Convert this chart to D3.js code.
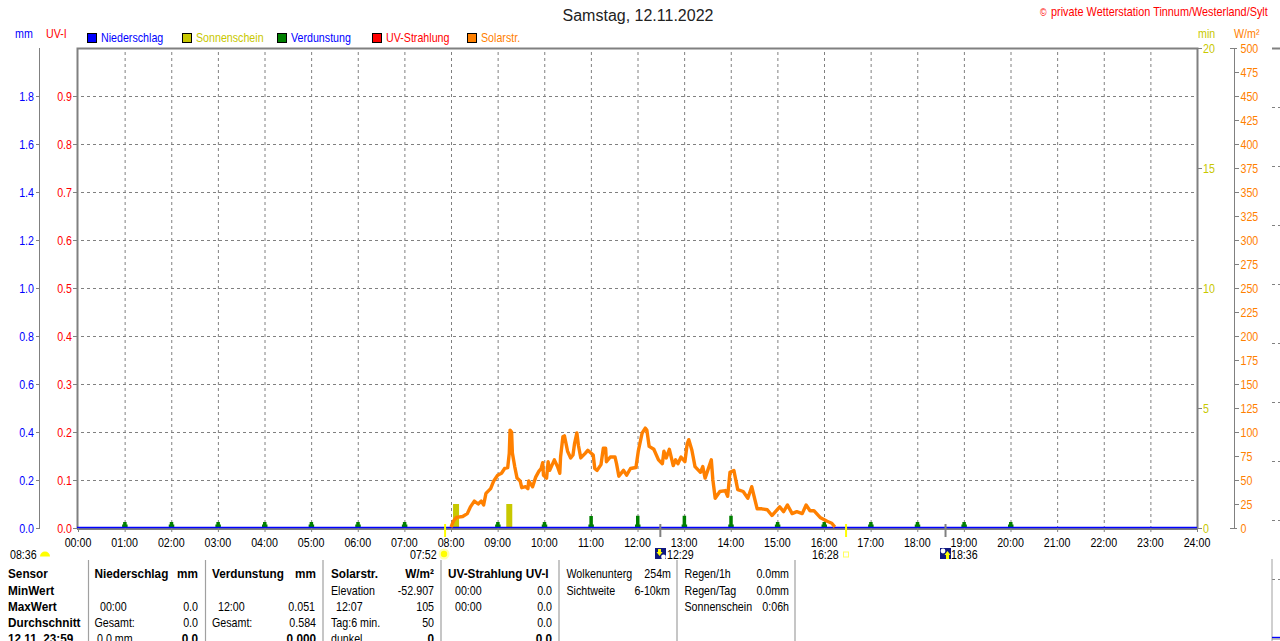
<!DOCTYPE html>
<html><head><meta charset="utf-8">
<script src="https://cdn.jsdelivr.net/npm/d3@7/dist/d3.min.js"></script>
<style>html,body{margin:0;padding:0;background:#fff;overflow:hidden}svg{display:block}text{font-family:"Liberation Sans",Arial,sans-serif}</style>
</head><body><svg id="c" width="1280" height="641"></svg>
<script>
const title = "Samstag, 12.11.2022";
const credit = "private Wetterstation Tinnum/Westerland/Sylt";
const legendNames = ["Niederschlag","Sonnenschein","Verdunstung","UV-Strahlung","Solarstr."];
const legendColors = ["#0000ff","#c8c800","#008000","#ff0000","#ff8000"];
const legendText = ["#0000ff","#c8c800","#0000ff","#ff0000","#ff8000"];
const hours = d3.range(0,25);
const mmTicks = [0,0.2,0.4,0.6,0.8,1.0,1.2,1.4,1.6,1.8];
const uvTicks = [0,0.1,0.2,0.3,0.4,0.5,0.6,0.7,0.8,0.9];
const minTicks = [0,5,10,15,20];
const solarTicks = d3.range(0,501,25);
const solarTimes = [480,483,487,495,501,505,510,515,519,522,525,531,535,540,545,549,553,555,556,558,559,562,565,569,571,576,579,580,585,589,593,596,598,599,603,605,607,613,617,620,621,624,626,630,634,637,639,642,644,647,653,656,663,665,668,673,676,679,680,685,691,693,696,702,706,711,718,721,726,730,732,735,741,747,752,754,757,761,766,769,772,776,781,784,786,790,794,801,804,807,815,817,820,826,833,836,839,844,849,856,862,867,874,880,887,893,903,908,913,919,925,932,937,942,947,955,964,970,974];
const solarWatts = [1,7,11,12,15,22,28,25,28,24,36,41,49,55,57,62,63,78,102,100,78,64,52,49,42,43,41,49,43,53,59,62,68,55,52,69,60,71,64,57,74,95,96,80,73,76,88,99,86,73,78,81,76,62,60,66,83,83,69,74,74,67,54,60,55,62,63,80,99,104,102,85,82,71,67,80,73,82,65,71,67,74,69,88,92,81,64,58,64,52,71,50,31,38,39,33,58,60,40,38,31,43,20,20,19,13,22,17,24,15,17,15,24,18,18,11,7,5,1];
const evapHours = [1,2,3,4,5,6,7,9,10,11,12,13,14,15,16,17,18,19,20];
const evapValues = [0.025,0.025,0.025,0.025,0.025,0.025,0.025,0.025,0.025,0.05,0.051,0.051,0.051,0.025,0.025,0.025,0.025,0.025,0.025];
const sunTimes = [486.5,555];
const sunValues = [1,1];
const tableCells = [
 [8,573,"Sensor","s",1],[8,590,"MinWert","s",1],[8,606,"MaxWert","s",1],[8,622,"Durchschnitt","s",1],[8,638,"12.11.  23:59","s",1],
 [94.5,573,"Niederschlag","s",1],[198,573,"mm","e",1],[100,606,"00:00","s",0],[198,606,"0.0","e",0],[94.5,622,"Gesamt:","s",0],[198,622,"0.0","e",0],[97,638,"0.0 mm","s",0],[198,638,"0.0","e",1],
 [212,573,"Verdunstung","s",1],[316,573,"mm","e",1],[218,606,"12:00","s",0],[315,606,"0.051","e",0],[212,622,"Gesamt:","s",0],[316,622,"0.584","e",0],[316,638,"0.000","e",1],
 [331,573,"Solarstr.","s",1],[434,573,"W/m²","e",1],[331,590,"Elevation","s",0],[434,590,"-52.907","e",0],[336,606,"12:07","s",0],[434,606,"105","e",0],[331,622,"Tag:6 min.","s",0],[434,622,"50","e",0],[331,638,"dunkel","s",0],[434,638,"0","e",1],
 [448,573,"UV-Strahlung UV-I","s",1],[455,590,"00:00","s",0],[552,590,"0.0","e",0],[455,606,"00:00","s",0],[552,606,"0.0","e",0],[552,622,"0.0","e",0],[552,638,"0.0","e",1],
 [566.5,573,"Wolkenunterg","s",0],[671,573,"254m","e",0],[566.5,590,"Sichtweite","s",0],[670,590,"6-10km","e",0],
 [684.5,573,"Regen/1h","s",0],[789,573,"0.0mm","e",0],[684.5,590,"Regen/Tag","s",0],[789,590,"0.0mm","e",0],[684.5,606,"Sonnenschein","s",0],[789,606,"0:06h","e",0]
];
const tableSeparators = [88.5,205.5,323,441,559,677,795];
const edgeDashes = [107,166,225,284,343,402,461,520,579];

const GREY="#808080";
const svg=d3.select("#c");
const x=d3.scaleLinear().domain([0,1440]).range([78,1197]);
const ySolar=d3.scaleLinear().domain([0,500]).range([528,48]);
const yUv=d3.scaleLinear().domain([0,1]).range([528,48]);
const yMm=d3.scaleLinear().domain([0,2]).range([528,48]);
const yMin=d3.scaleLinear().domain([0,20]).range([528,48]);

function label(px,cy,str,color,anchor,bold,size,scale){
  const sx=scale||(bold?0.98:0.89);
  return svg.append("text").attr("transform",`translate(${px},${cy+4.6}) scale(${sx},1)`)
    .attr("text-anchor",anchor==="e"?"end":anchor==="m"?"middle":"start")
    .attr("font-size",size||12).attr("font-weight",bold?"bold":"normal").attr("fill",color||"#000").text(str);
}
function seg(x1,y1,x2,y2,c,w,dash){
  const l=svg.append("line").attr("x1",x1).attr("y1",y1).attr("x2",x2).attr("y2",y2).attr("stroke",c||GREY).attr("stroke-width",w||1);
  if(dash)l.attr("stroke-dasharray",dash);return l;
}
// title etc.
svg.append("text").attr("x",638).attr("y",20.5).attr("text-anchor","middle").attr("font-size",16).attr("fill","#222").text(title);
label(1040,11,"©","#ff0000","s",0,10);
label(1051,11.5,credit,"#ff0000","s",0,12,0.905);
label(15,33,"mm","#0000ff","s");label(46,33,"UV-I","#ff0000","s");
label(1198,33,"min","#c8c800","s");label(1234,33,"W/m²","#ff8000","s");
// legend
const legendX=[87.5,182.5,277.5,372.5,467.5];
legendNames.forEach((n,i)=>{
  svg.append("rect").attr("x",legendX[i]).attr("y",33.5).attr("width",9).attr("height",9).attr("fill",legendColors[i]).attr("stroke","#000");
  label(legendX[i]+13.5,37.5,n,legendText[i],"s");
});
// grid
uvTicks.filter(d=>d>0).forEach(d=>seg(75,yUv(d)+.5,1197,yUv(d)+.5,GREY,1,"3,3"));
hours.slice(1,24).forEach(h=>seg(x(h*60)+.5,52,x(h*60)+.5,528,GREY,1,"3,3"));
// left axes
seg(39.5,48,39.5,528,GREY,1);
mmTicks.forEach(d=>{seg(36,yMm(d)+.5,40,yMm(d)+.5,GREY,1);label(34,yMm(d),d.toFixed(1),"#0000ff","e");});
uvTicks.forEach(d=>{seg(73,yUv(d)+.5,77,yUv(d)+.5,GREY,1);label(72,yUv(d),d.toFixed(1),"#ff0000","e");});
// sunshine bars
svg.selectAll(".sun").data(sunTimes).join("rect").attr("x",d=>x(d)-3).attr("width",6)
  .attr("y",(d,i)=>yMin(sunValues[i])).attr("height",(d,i)=>528-yMin(sunValues[i])).attr("fill","#c8c800");
// evaporation
evapHours.forEach((h,i)=>{
  const cx=x(h*60), top=yMm(evapValues[i]);
  svg.append("rect").attr("x",cx-1.5).attr("width",3.5).attr("y",top).attr("height",528-top).attr("fill","#008000");
  svg.append("rect").attr("x",cx-2.5).attr("width",5.5).attr("y",524.5).attr("height",3.5).attr("fill","#008000");
});
// frame
svg.append("path").attr("d",`M77.5,528.5V48.5H1197.5V528.5`).attr("fill","none").attr("stroke",GREY).attr("stroke-width",2);
seg(77,529,1198,529,GREY,2);
seg(77,527.5,1197,527.5,"#0000ff",1.5);
// solar
svg.append("path").datum(solarTimes).attr("fill","none").attr("stroke","#ff8000").attr("stroke-width",3.4).attr("stroke-linejoin","round")
  .attr("d",d3.line().x(d=>x(d)).y((d,i)=>ySolar(solarWatts[i])));
// hour labels
hours.forEach(h=>{seg(x(h*60)+.5,528,x(h*60)+.5,532,GREY,1);label(x(h*60),542,d3.format("02")(h)+":00","#000","m");});
// right axes
minTicks.forEach(d=>{seg(1197,yMin(d)+.5,1202,yMin(d)+.5,GREY,1);label(1203,yMin(d),String(d),"#c8c800","s");});
seg(1234.5,48,1234.5,528,GREY,1);
solarTicks.forEach(d=>{
  const e=d===0||d===500;
  seg(e?1230:1234,ySolar(d)+.5,e?1237:1239,ySolar(d)+.5,GREY,1);
  label(1240.5,ySolar(d),String(d),"#ff8000","s");
});
// right edge
seg(1272,48.5,1280,48.5,GREY,2);
edgeDashes.forEach(d=>seg(1272,d+.5,1280,d+.5,GREY,1,"3,3"));
seg(1272,559,1272,641,"#a0a0a0",1);
seg(1272,637.5,1280,637.5,"#0000ff",1.4);seg(1272,639,1280,639,GREY,1);
// sun/moon markers
[[472,"#ffff00"],[988,"#ffff00"],[749,GREY],[1116,GREY]].forEach(([m,c])=>seg(x(m)+.3,524,x(m)+.3,537,c,2));
label(10,554,"08:36","#000","s");
svg.append("path").attr("d","M40,556.5 a5,5 0 0 1 10,0 z").attr("fill","#ffff00");
label(410,554,"07:52","#000","s");
svg.append("circle").attr("cx",444).attr("cy",554).attr("r",5.5).attr("fill","#ffffb0");
svg.append("circle").attr("cx",444).attr("cy",554).attr("r",3.2).attr("fill","#ffff00");
label(667,554,"12:29","#000","s");
svg.append("rect").attr("x",655).attr("y",548).attr("width",11).attr("height",11).attr("fill","#101880");
svg.append("path").attr("d","M658,549h3v3h1.5l-3,4l-3,-4h1.5z").attr("fill","#ffff00");
svg.append("circle").attr("cx",663.5).attr("cy",557).attr("r",2.4).attr("fill","#fff");
label(812,554,"16:28","#000","s");
svg.append("rect").attr("x",843.5).attr("y",552).attr("width",5).attr("height",5).attr("fill","#fff").attr("stroke","#ffff60");
label(951,554,"18:36","#000","s");
svg.append("rect").attr("x",940).attr("y",548).attr("width",11).attr("height",11).attr("fill","#101880");
svg.append("circle").attr("cx",943).attr("cy",551).attr("r",2.4).attr("fill","#fff");
svg.append("path").attr("d","M947.5,551l3,4h-1.5v4h-3v-4h-1.5z").attr("fill","#ffff00");
// table
tableSeparators.forEach(d=>seg(d,560,d,641,"#a0a0a0",1.2));
tableCells.forEach(c=>label(c[0],c[1],c[2],"#000",c[3],c[4]));
</script></body></html>
